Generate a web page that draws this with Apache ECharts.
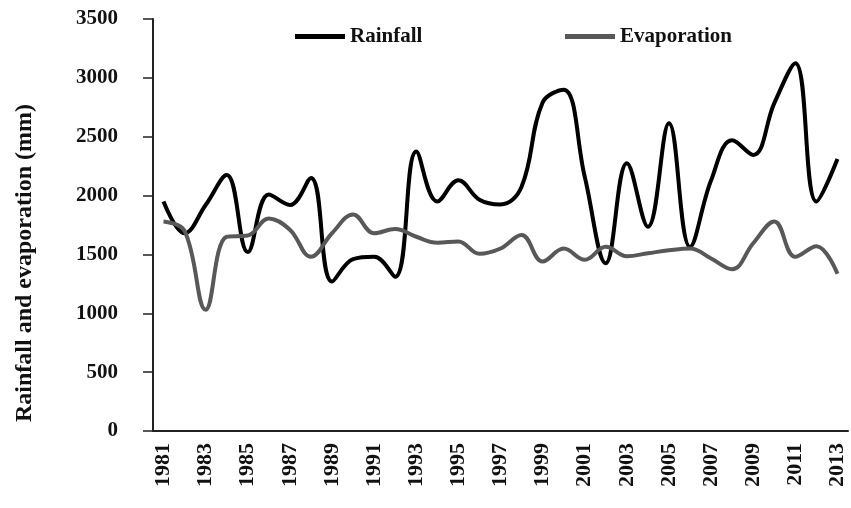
<!DOCTYPE html>
<html>
<head>
<meta charset="utf-8">
<script src="https://cdn.jsdelivr.net/npm/echarts@6/dist/echarts.min.js"></script>
<style>
  html, body { margin: 0; padding: 0; background: #fff; }
  #chart { width: 851px; height: 508px; }
</style>
</head>
<body>
<div id="chart"></div>
<script>
  // years on the x axis
  var years = [];
  for (var y = 1981; y <= 2013; y++) years.push(String(y));

  // annual totals (mm)
  var rainfall = [1950, 1680, 1920, 2175, 1520, 2010, 1920, 2150, 1270, 1460, 1480, 1310, 2375, 1950, 2130,
    1965, 1925, 2075, 2790, 2900, 2160, 1425, 2275, 1735, 2615, 1565, 2130, 2470, 2345, 2785, 3125, 1950, 2310];
  var evaporation = [1780, 1700, 1030, 1650, 1660, 1805, 1710, 1480, 1680, 1840, 1680, 1715, 1650, 1600, 1610,
    1505, 1550, 1665, 1440, 1550, 1455, 1565, 1485, 1510, 1535, 1550, 1465, 1375, 1595, 1780, 1480, 1570, 1335];

  var serif = 'Liberation Serif';
  var legendText = { fontFamily: serif, fontWeight: 'bold', fontSize: 21, color: '#111' };
  var chart = echarts.init(document.getElementById('chart'));
  chart.setOption({
    animation: false,
    backgroundColor: '#fff',
    textStyle: { fontFamily: serif },
    legend: [
      {
        data: [{ name: 'Rainfall', icon: 'rect' }], left: 290, top: 21,
        itemWidth: 50, itemHeight: 5, textStyle: legendText
      },
      {
        data: [{ name: 'Evaporation', icon: 'rect' }], left: 560, top: 21,
        itemWidth: 50, itemHeight: 5, textStyle: legendText
      }
    ],
    grid: { left: 153, right: 3, top: 19, bottom: 77 },
    xAxis: {
      type: 'category',
      data: years,
      boundaryGap: true,
      axisLine: { lineStyle: { color: '#222', width: 2 } },
      axisTick: { length: 7, lineStyle: { color: '#222', width: 1.5 } },
      axisLabel: {
        interval: 1, rotate: 90, margin: 12,
        fontFamily: serif, fontWeight: 'bold', fontSize: 22, color: '#111'
      }
    },
    yAxis: {
      type: 'value',
      min: 0, max: 3500, interval: 500,
      name: 'Rainfall and evaporation (mm)',
      nameLocation: 'middle',
      nameGap: 116,
      nameTextStyle: {
        fontFamily: serif, fontWeight: 'bold', fontSize: 24, color: '#111',
        padding: [0, 76, 0, 0]
      },
      axisLine: { show: true, lineStyle: { color: '#222', width: 2 } },
      axisTick: { show: true, length: 10, lineStyle: { color: '#222', width: 1.5 } },
      splitLine: { show: false },
      axisLabel: {
        margin: 35, fontFamily: serif, fontWeight: 'bold', fontSize: 21, color: '#111',
        formatter: function (v) { return String(v); }
      }
    },
    series: [
      {
        name: 'Rainfall', type: 'line', data: rainfall,
        smooth: 0.4, symbol: 'none',
        lineStyle: { color: '#000', width: 4 },
        itemStyle: { color: '#000' }
      },
      {
        name: 'Evaporation', type: 'line', data: evaporation,
        smooth: 0.4, symbol: 'none',
        lineStyle: { color: '#585858', width: 4 },
        itemStyle: { color: '#585858' }
      }
    ]
  });
</script>
</body>
</html>
